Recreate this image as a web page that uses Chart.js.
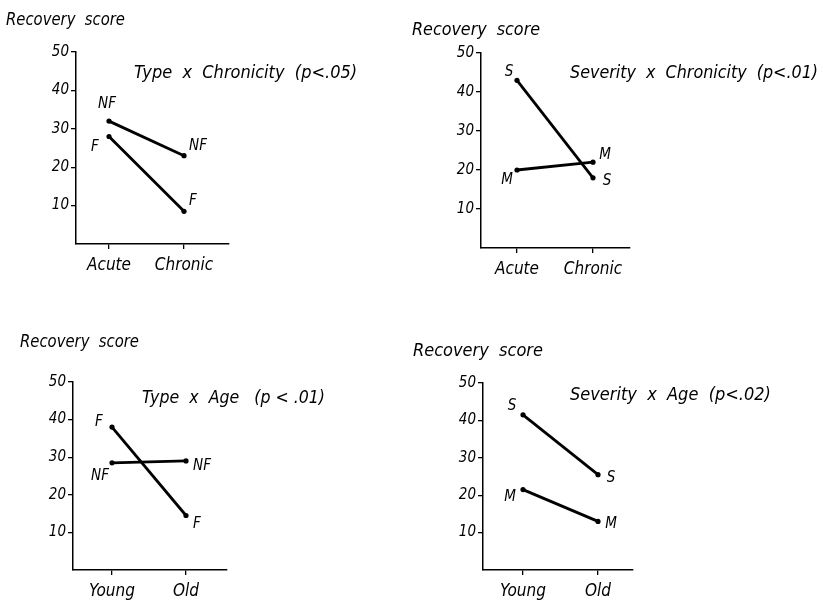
<!DOCTYPE html>
<html>
<head>
<meta charset="utf-8">
<script src="https://cdn.jsdelivr.net/npm/chart.js@4.4.1/dist/chart.umd.min.js"></script>
<style>
  html, body { margin: 0; padding: 0; background: #fff; }
  body { width: 823px; height: 606px; position: relative; overflow: hidden; }
  canvas { position: absolute; }
</style>
</head>
<body>
<canvas id="c1"></canvas>
<canvas id="c2"></canvas>
<canvas id="c3"></canvas>
<canvas id="c4"></canvas>
<script>
// ---------- DATA ----------
const chronicityCategories = ['Acute', 'Chronic'];
const ageCategories = ['Young', 'Old'];
const yTickValues = [10, 20, 30, 40, 50];
const yAxisLabel = 'Recovery  score';

const panelTitles = [
  'Type  x  Chronicity  (p<.05)',
  'Severity  x  Chronicity  (p<.01)',
  'Type  x  Age   (p < .01)',
  'Severity  x  Age  (p<.02)'
];

// Type x Chronicity
const typeChronNF = [32, 23];
const typeChronF = [28, 8.5];
// Severity x Chronicity
const sevChronS = [43, 18];
const sevChronM = [20, 22];
// Type x Age
const typeAgeF = [38, 14.5];
const typeAgeNF = [28.5, 29];
// Severity x Age
const sevAgeS = [41.5, 25.5];
const sevAgeM = [21.5, 13];

// ---------- LAYOUT / STYLE ----------
const FONT = "'Liberation Sans Narrow', 'DejaVu Sans Condensed', 'Roboto Condensed', sans-serif";

const panels = [
  { id: 'c1', box: { left: 0, top: 0, w: 400, h: 300 },
    axisX: 76, axisEndX: 229, top50: 52, base: 244, cat0: 109, cat1: 184,
    categories: chronicityCategories, title: panelTitles[0], titlePos: [134, 73, 229], ylabPos: [6, 20, 119],
    series: [
      { name: 'NF', data: typeChronNF, offs: [[-2, -17], [14, -10]] },
      { name: 'F', data: typeChronF, offs: [[-14, 11], [9, -10]] }
    ] },
  { id: 'c2', box: { left: 400, top: 0, w: 423, h: 300 },
    axisX: 481, axisEndX: 630, top50: 53, base: 248, cat0: 517, cat1: 593,
    categories: chronicityCategories, title: panelTitles[1], titlePos: [570, 73, 248], ylabPos: [412, 30, 128],
    series: [
      { name: 'S', data: sevChronS, offs: [[-8, -8], [14, 3]] },
      { name: 'M', data: sevChronM, offs: [[-10, 10], [12, -7]] }
    ] },
  { id: 'c3', box: { left: 0, top: 300, w: 400, h: 306 },
    axisX: 73, axisEndX: 227, top50: 382, base: 570, cat0: 112, cat1: 186,
    categories: ageCategories, title: panelTitles[2], titlePos: [142, 398, 183], ylabPos: [20, 342, 119],
    series: [
      { name: 'F', data: typeAgeF, offs: [[-13, -5], [11, 9]] },
      { name: 'NF', data: typeAgeNF, offs: [[-12, 13], [16, 5]] }
    ] },
  { id: 'c4', box: { left: 400, top: 300, w: 423, h: 306 },
    axisX: 483, axisEndX: 633, top50: 383, base: 570, cat0: 523, cat1: 598,
    categories: ageCategories, title: panelTitles[3], titlePos: [570, 395, 223], ylabPos: [413, 351, 135],
    series: [
      { name: 'S', data: sevAgeS, offs: [[-11, -9], [13, 3]] },
      { name: 'M', data: sevAgeM, offs: [[-13, 8], [13, 3]] }
    ] }
];

const annotPlugin = {
  id: 'annot',
  afterDatasetsDraw(chart, args, opts) {
    const ctx = chart.ctx;
    const p = opts.panel;
    ctx.save();
    ctx.fillStyle = '#000';
    ctx.textBaseline = 'middle';
    // y-axis label
    ctx.textAlign = 'left';
    ctx.font = 'italic 18px ' + FONT;
    ctx.fillText(yAxisLabel, p.ylabPos[0] - p.box.left, p.ylabPos[1] - p.box.top, p.ylabPos[2]);
    // title
    ctx.font = 'italic 18px ' + FONT;
    ctx.fillText(p.title, p.titlePos[0] - p.box.left, p.titlePos[1] - p.box.top, p.titlePos[2]);
    // point labels
    ctx.textAlign = 'center';
    ctx.font = 'italic 15px ' + FONT;
    p.series.forEach((s, di) => {
      const meta = chart.getDatasetMeta(di);
      meta.data.forEach((pt, i) => {
        ctx.fillText(s.name, pt.x + s.offs[i][0], pt.y + s.offs[i][1]);
      });
    });
    ctx.restore();
  }
};

panels.forEach(p => {
  const cv = document.getElementById(p.id);
  cv.width = p.box.w; cv.height = p.box.h;
  cv.style.left = p.box.left + 'px';
  cv.style.top = p.box.top + 'px';
  cv.style.width = p.box.w + 'px';
  cv.style.height = p.box.h + 'px';

  const unit = p.cat1 - p.cat0;
  const xMin = -(p.cat0 - p.axisX) / unit;
  const xMax = 1 + (p.axisEndX - p.cat1) / unit;
  const yAxisW = p.axisX - p.box.left;
  const xAxisH = p.box.top + p.box.h - p.base;

  new Chart(cv, {
    type: 'line',
    data: {
      datasets: p.series.map(s => ({
        label: s.name,
        data: s.data.map((v, i) => ({ x: i, y: v })),
        borderColor: '#000',
        borderWidth: 2.8,
        backgroundColor: '#000',
        pointRadius: 2.6,
        pointBorderWidth: 0,
        pointBackgroundColor: '#000',
        tension: 0
      }))
    },
    options: {
      responsive: false,
      animation: false,
      events: [],
      layout: { padding: { left: 0, top: p.top50 - p.box.top, right: p.box.left + p.box.w - p.axisEndX, bottom: 0 } },
      plugins: { legend: { display: false }, tooltip: { enabled: false }, annot: { panel: p } },
      scales: {
        x: {
          type: 'linear', min: xMin, max: xMax,
          afterBuildTicks: s => { s.ticks = p.categories.map((c, i) => ({ value: i })); },
          afterFit: s => { s.height = xAxisH; },
          ticks: { callback: v => p.categories[v], color: '#000', padding: 6,
                   font: { family: FONT, size: 17, style: 'italic' }, maxRotation: 0, autoSkip: false },
          grid: { display: true, drawOnChartArea: false, drawTicks: true, tickLength: 5, color: '#000', lineWidth: 1.3 },
          border: { display: true, color: '#000', width: 1.5 }
        },
        y: {
          type: 'linear', min: 0, max: 50,
          afterBuildTicks: s => { s.ticks = yTickValues.map(v => ({ value: v })); },
          afterFit: s => { s.width = yAxisW; },
          ticks: { color: '#000', padding: 2, font: { family: FONT, size: 15, style: 'italic' } },
          grid: { display: true, drawOnChartArea: false, drawTicks: true, tickLength: 5, color: '#000', lineWidth: 1.3 },
          border: { display: true, color: '#000', width: 1.5 }
        }
      }
    },
    plugins: [annotPlugin]
  });
});
</script>
</body>
</html>
